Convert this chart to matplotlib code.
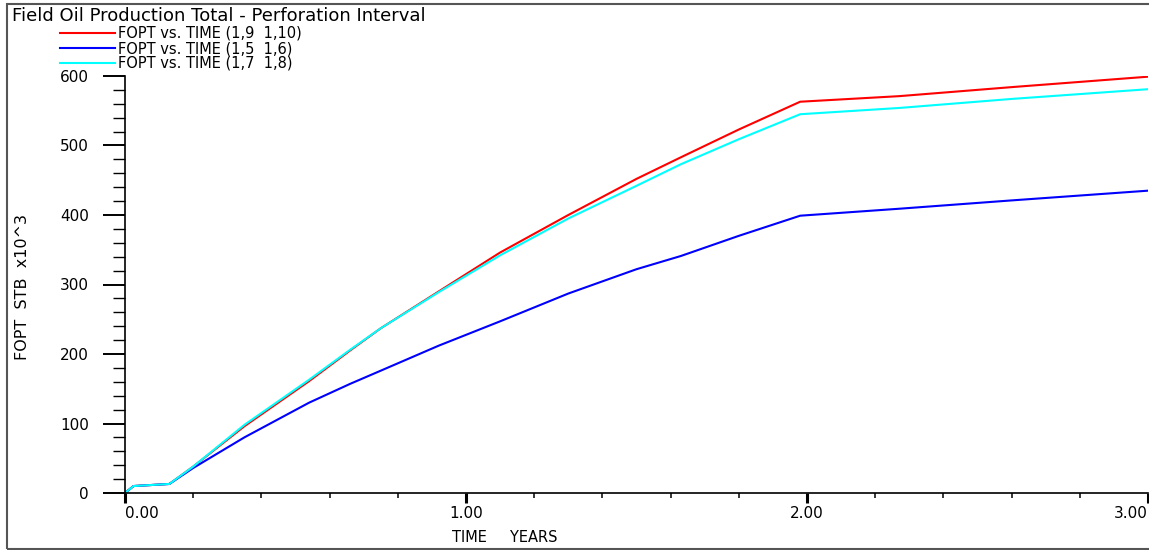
import matplotlib
matplotlib.use("Agg")
import matplotlib.pyplot as plt
from matplotlib.patches import Rectangle
from matplotlib.ticker import MultipleLocator

# time in years
time = [0, 0.025, 0.13, 0.2, 0.35, 0.54, 0.66, 0.75, 0.92, 1.1, 1.3,
        1.5, 1.63, 1.8, 1.98, 2.27, 2.6, 3.0]

# FOPT (STB x10^3) for each perforation interval
fopt_1_9 = [0, 10, 13, 38, 96, 161, 205, 237, 290, 346, 400,
            452, 483, 523, 563, 571, 584, 599]
fopt_1_5 = [0, 10, 13, 36, 80, 130, 157, 176, 212, 247, 287,
            322, 341, 370, 399, 409, 421, 435]
fopt_1_7 = [0, 10, 13, 38, 98, 163, 206, 237, 289, 342, 395,
            442, 473, 509, 545, 554, 567, 581]

labels = ["FOPT vs. TIME (1,9  1,10)",
          "FOPT vs. TIME (1,5  1,6)",
          "FOPT vs. TIME (1,7  1,8)"]

W, H = 1149, 550
fig = plt.figure(figsize=(W / 100, H / 100), dpi=100)
ax = fig.add_axes([125 / W, (H - 493) / H, (1148 - 125) / W, (493 - 76) / H])

l1, = ax.plot(time, fopt_1_9, color="#ff0000", lw=1.5, label=labels[0])
l2, = ax.plot(time, fopt_1_5, color="#0000ff", lw=1.5, label=labels[1])
l3, = ax.plot(time, fopt_1_7, color="#00ffff", lw=1.5, label=labels[2])

ax.set_xlim(0, 3)
ax.set_ylim(0, 600)
ax.spines["top"].set_visible(False)
ax.spines["right"].set_visible(False)
ax.spines["left"].set_linewidth(1.2)
ax.spines["bottom"].set_linewidth(1.2)

ax.set_xticks([0, 1, 2, 3])
ax.set_xticklabels(["0.00", "1.00", "2.00", "3.00"])
ax.xaxis.set_minor_locator(MultipleLocator(0.2))
ax.set_yticks([0, 100, 200, 300, 400, 500, 600])
ax.yaxis.set_minor_locator(MultipleLocator(20))

ax.tick_params(axis="x", which="major", direction="out", length=7.5, width=2.2,
               pad=2, labelsize=11)
ax.tick_params(axis="x", which="minor", direction="out", length=3.8, width=1.1)
ax.tick_params(axis="y", which="major", direction="out", length=16, width=1.4,
               pad=10, labelsize=11)
ax.tick_params(axis="y", which="minor", direction="out", length=8.6, width=1.0)

xl = ax.get_xticklabels()
xl[0].set_ha("left")
xl[-1].set_ha("right")

ax.set_xlabel("TIME     YEARS", fontsize=10.5)
ax.xaxis.set_label_coords((505 - 125) / 1023, (493 - 530) / 417)
ax.set_ylabel("FOPT  STB  x10^3", fontsize=11.5)
ax.yaxis.set_label_coords((30 - 125) / 1023, (493 - 287) / 417)

fig.text(12 / W, 1 - 16 / H, "Field Oil Production Total - Perforation Interval",
         fontsize=13, ha="left", va="center")

fig.legend(handles=[l1, l2, l3], loc="upper left",
           bbox_to_anchor=(60 / W, 1 - 26 / H), frameon=False, fontsize=10.5,
           borderpad=0, borderaxespad=0, handlelength=3.8, handletextpad=0.2,
           labelspacing=0.0)

fig.add_artist(Rectangle((7 / W, 1.5 / H), 1.2, (H - 5.5) / H,
                         transform=fig.transFigure, fill=False,
                         edgecolor="#555555", lw=1.5))

fig.savefig("out.png", dpi=100)
